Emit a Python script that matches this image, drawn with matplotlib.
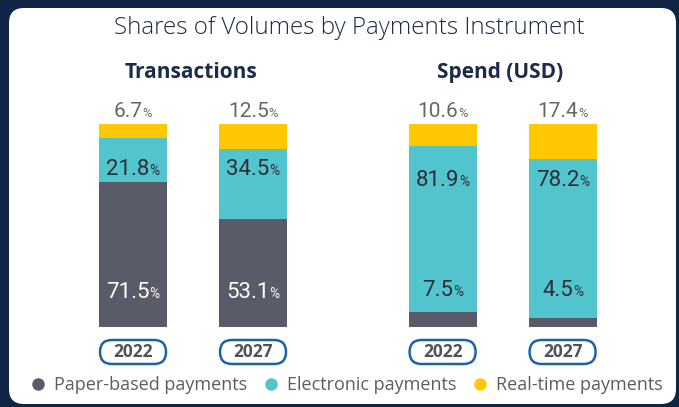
import matplotlib
matplotlib.use("Agg")
import matplotlib.pyplot as plt
from matplotlib.patches import FancyBboxPatch
from matplotlib.lines import Line2D
from matplotlib.transforms import offset_copy

# data
GROUPS = ["Transactions", "Spend (USD)"]
YEARS = ["2022", "2027", "2022", "2027"]
PAPER = [71.5, 53.1, 7.5, 4.5]
ELECTRONIC = [21.8, 34.5, 81.9, 78.2]
REALTIME = [6.7, 12.5, 10.6, 17.4]
SERIES = ["Paper-based payments", "Electronic payments", "Real-time payments"]

C_PAPER = "#5a5b68"
C_ELEC = "#52c4ce"
C_RT = "#ffc800"
NAVY = "#1d2b48"
BG = "#102444"

X = [0, 1, 2.58, 3.58]
W = 0.567
NUM_FONT = ["Roboto", "DejaVu Sans"]
TXT_FONT = ["Open Sans", "DejaVu Sans"]

fig = plt.figure(figsize=(6.79, 4.07), dpi=100)
fig.patch.set_facecolor(BG)

# overlay in pixel coordinates for the panel and year pills
bg = fig.add_axes([0, 0, 1, 1], zorder=0)
bg.set_xlim(0, 679)
bg.set_ylim(0, 407)
bg.axis("off")
bg.add_patch(FancyBboxPatch((9, 3), 667, 396, boxstyle="round,pad=0,rounding_size=15",
                            fc="white", ec="none"))

ax = fig.add_axes([0, 80 / 407, 1, 203 / 407], zorder=1)
ax.patch.set_alpha(0)
ax.set_xlim(-133 / 120, 546 / 120)
ax.set_ylim(0, 100)
ax.axis("off")

bottom2 = [p + e for p, e in zip(PAPER, ELECTRONIC)]
ax.bar(X, PAPER, W, color=C_PAPER)
ax.bar(X, ELECTRONIC, W, bottom=PAPER, color=C_ELEC)
ax.bar(X, REALTIME, W, bottom=bottom2, color=C_RT)

renderer = fig.canvas.get_renderer()


def pct_label(x, y, value, size, color):
    num = ax.text(x, y, f"{value:.1f}", fontsize=size, family=NUM_FONT,
                  color=color, ha="left", va="baseline")
    pct = ax.text(x, y, "%", fontsize=size * 0.62, family=NUM_FONT,
                  color=color, ha="left", va="baseline")
    w1 = num.get_window_extent(renderer).width
    w2 = pct.get_window_extent(renderer).width
    left = -(w1 + w2) / 2
    num.set_transform(offset_copy(ax.transData, fig=fig, x=left, y=0, units="dots"))
    pct.set_transform(offset_copy(ax.transData, fig=fig, x=left + w1, y=0, units="dots"))


for i, x in enumerate(X):
    mid_y = 75 if i < 2 else 69.5
    bot_y = 14.5 if i < 2 else 15.5
    pct_label(x, bot_y, PAPER[i], 16, "#2c2d35" if i >= 2 else "white")
    pct_label(x, mid_y, ELECTRONIC[i], 16, "#2c2d35")
    pct_label(x, 103.6, REALTIME[i], 15, "#666666")

# group headings
for g, xs in zip(GROUPS, [X[:2], X[2:]]):
    ax.text(sum(xs) / 2 - 0.02, 125.5, g, fontsize=15, fontweight="bold", family=TXT_FONT,
            color=NAVY, ha="center", va="center")

# year pills
for x, yr in zip(X, YEARS):
    px, _ = ax.transData.transform((x, 0))
    bg.add_patch(FancyBboxPatch((px - 33, 407 - 364), 66, 24,
                                boxstyle="round,pad=0,rounding_size=12",
                                fc="white", ec="#1b62ad", lw=1.8))
    bg.text(px, 407 - 352, yr, fontsize=12.5, fontweight="bold", family=TXT_FONT,
            color="#50535e", ha="center", va="center")

fig.text(349 / 679, 1 - 28 / 407, "Shares of Volumes by Payments Instrument", fontsize=17.4,
         family=TXT_FONT, fontweight="light", color=NAVY, ha="center", va="center")

handles = [Line2D([], [], ls="", marker="o", ms=9, color=c, mec="none")
           for c in [C_PAPER, C_ELEC, C_RT]]
leg = fig.legend(handles, SERIES, loc="center", bbox_to_anchor=(345 / 679, 22 / 407), ncol=3,
                 frameon=False, handletextpad=0.3, columnspacing=0.7, handlelength=1.2,
                 prop={"family": TXT_FONT, "size": 13})
for t in leg.get_texts():
    t.set_color("#5a5d68")

fig.savefig("out.png", dpi=100, facecolor=fig.get_facecolor())
